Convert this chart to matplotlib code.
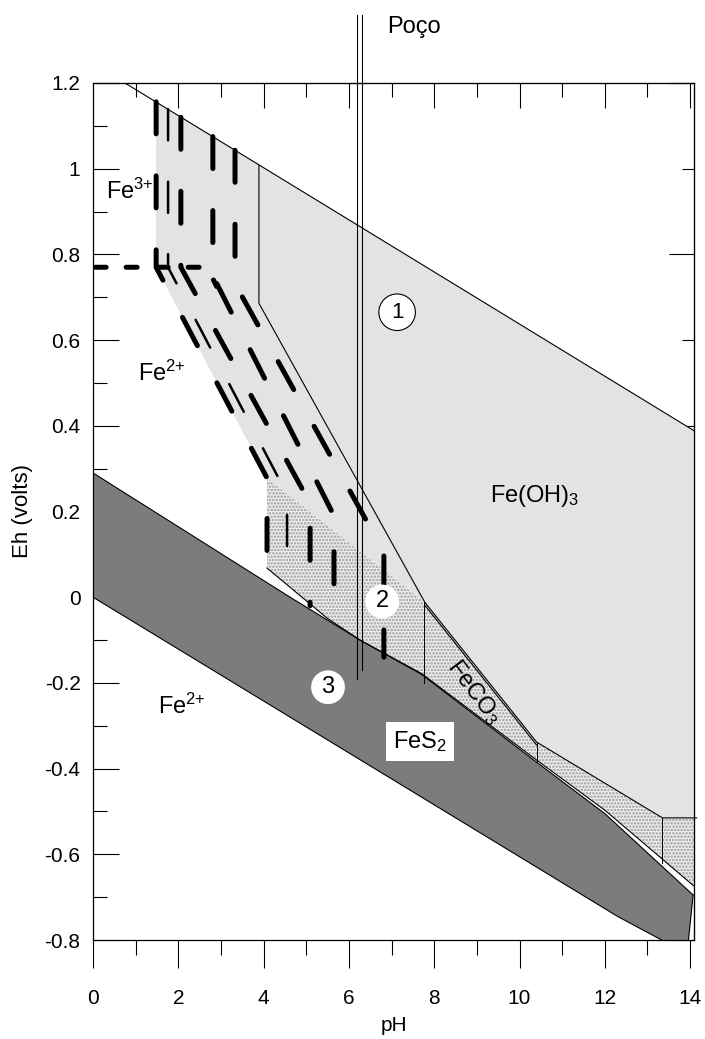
import numpy as np
import matplotlib
matplotlib.use('Agg')
import matplotlib.pyplot as plt

plt.rcParams['font.family'] = ['Liberation Sans', 'DejaVu Sans']
plt.rcParams['mathtext.fontset'] = 'custom'
plt.rcParams['mathtext.rm'] = 'Liberation Sans'
plt.rcParams['mathtext.it'] = 'Liberation Sans:italic'
plt.rcParams['mathtext.bf'] = 'Liberation Sans:bold'
plt.rcParams['hatch.linewidth'] = 1.2

# upper water stability line
top_ph = [0.75, 14.1]
top_eh = [1.2, 0.388]

# Fe(OH)3 field (light shading)
feoh3_ph = [1.48, 14.1, 14.1, 13.35, 10.4, 7.78, 4.08, 1.48]
feoh3_eh = [1.156, 0.388, -0.515, -0.515, -0.338, -0.012, 0.278, 0.77]

# FeCO3 field (dotted)
feco3_ph = [4.08, 7.78, 10.4, 13.35, 14.1, 14.1, 12.0, 10.4, 7.7, 6.26, 5.49, 4.08]
feco3_eh = [0.278, -0.012, -0.338, -0.515, -0.515, -0.675, -0.497, -0.380, -0.178, -0.10, -0.049, 0.068]

# FeS2 field (dark)
fes2_ph = [0, 4.62, 6.26, 7.7, 10.4, 12.0, 14.07, 13.95, 13.48, 12.3, 0]
fes2_eh = [0.29, 0.0, -0.10, -0.18, -0.385, -0.505, -0.695, -0.81, -0.808, -0.745, 0.0]

# Fe(OH)3 boundary line
bnd_ph = [3.89, 3.89, 7.78, 10.4, 13.35, 14.15]
bnd_eh = [1.009, 0.686, -0.012, -0.338, -0.515, -0.515]
bnd2_ph = [7.78, 10.4]
bnd2_eh = [-0.019, -0.345]

# vertical dividers inside FeCO3
div_ph = [7.75, 10.4, 13.35]
div_top = [-0.012, -0.338, -0.515]
div_bot = [-0.20, -0.382, -0.62]

# well (Poço) trace
poco_ph = [6.19, 6.31]
poco_top = [1.358, 1.358]
poco_bot = [-0.19, -0.17]

# dashed boundaries for other iron activities
l1_ph = [1.48, 1.48, 4.08, 4.08]
l1_eh = [1.156, 0.77, 0.278, 0.07]
l2_ph = [1.76, 1.76, 4.55, 4.55]
l2_eh = [1.139, 0.77, 0.24, 0.03]
l3_ph = [2.06, 2.06, 5.09, 5.09]
l3_eh = [1.120, 0.77, 0.219, -0.02]
l4_ph = [2.81, 2.81, 5.65, 5.65]
l4_eh = [1.075, 0.75, 0.19, -0.06]
l5_ph = [3.33, 3.33, 3.45, 6.38, 6.82, 6.82]
l5_eh = [1.043, 0.745, 0.71, 0.184, 0.11, -0.14]
h_ph = [0.05, 2.5, 2.75, 2.9]
h_eh = [0.77, 0.77, 0.755, 0.725]

fig = plt.figure(figsize=(7.05, 10.39), dpi=100)
ax = fig.add_axes([93/705, 1-940/1039, (694.4-93)/705, (940-83)/1039])
ax.set_xlim(0, 14.1)
ax.set_ylim(-0.8, 1.2)

ax.fill(feoh3_ph, feoh3_eh, facecolor='#e3e3e3', edgecolor='none', zorder=1)
ax.fill(feco3_ph, feco3_eh, facecolor='#eeeeee', edgecolor='none', zorder=1)
ax.fill(feco3_ph, feco3_eh, facecolor='none', edgecolor='#9a9a9a', hatch='.....', linewidth=0, zorder=1.1)
ax.fill(fes2_ph, fes2_eh, facecolor='#7c7c7c', edgecolor='none', zorder=2)

# outlines
ax.plot(top_ph, top_eh, color='k', lw=0.8, zorder=3)
ax.plot(bnd_ph, bnd_eh, color='k', lw=0.8, zorder=3, clip_on=False)
ax.plot(bnd2_ph, bnd2_eh, color='k', lw=0.8, zorder=3)
ax.plot(fes2_ph[:7], fes2_eh[:7], color='k', lw=0.8, zorder=3)
ax.plot(fes2_ph[6:], fes2_eh[6:], color='k', lw=0.8, zorder=3)
ax.plot(feco3_ph[5:], feco3_eh[5:], color='k', lw=0.8, zorder=3)
for x, y0, y1 in zip(div_ph, div_top, div_bot):
    ax.plot([x, x], [y0, y1], color='k', lw=0.7, zorder=3)

for x, y0, y1 in zip(poco_ph, poco_top, poco_bot):
    ax.plot([x, x], [y0, y1], color='k', lw=0.8, zorder=6, clip_on=False)
ax.text(6.9, 1.317, 'Poço', fontsize=17, ha='left', va='baseline')

thick = dict(color='k', lw=3.6, solid_capstyle='round', dash_capstyle='round', zorder=5)
for xs, ys in [(l1_ph, l1_eh), (l3_ph, l3_eh), (l4_ph, l4_eh), (l5_ph, l5_eh)]:
    ax.plot(xs, ys, linestyle=(0, (6.4, 8.4)), **thick)
ax.plot(l2_ph, l2_eh, color='k', lw=1.8, linestyle=(0, (12.5, 16.5)),
        dash_capstyle='round', zorder=5)
ax.plot(h_ph, h_eh, linestyle=(0, (2.2, 4.0)), **thick)

# field labels
ax.text(0.3, 0.947, r'$\mathregular{Fe^{3{+}}}$', fontsize=17, va='center', zorder=7)
ax.text(1.06, 0.523, r'$\mathregular{Fe^{2{+}}}$', fontsize=17, va='center', zorder=7)
ax.text(1.52, -0.255, r'$\mathregular{Fe^{2{+}}}$', fontsize=17, va='center', zorder=7)
ax.text(10.36, 0.236, r'$\mathregular{Fe(OH)_3}$', fontsize=17, ha='center', va='center', zorder=7)
ax.text(7.67, -0.336, r'$\mathregular{FeS_2}$', fontsize=17, ha='center', va='center', zorder=7,
        bbox=dict(boxstyle='square,pad=0.3', fc='white', ec='none'))
ax.text(8.93, -0.222, r'$\mathregular{FeCO_3}$', fontsize=17, ha='center', va='center',
        rotation=-53, rotation_mode='anchor', zorder=7)

ax.text(7.13, 0.665, '1', fontsize=16, ha='center', va='center', zorder=7,
        bbox=dict(boxstyle='circle,pad=0.35', fc='white', ec='k', lw=0.8))
ax.text(6.78, -0.01, '2', fontsize=17, ha='center', va='center', zorder=7,
        bbox=dict(boxstyle='circle,pad=0.25', fc='white', ec='none'))
ax.text(5.51, -0.21, '3', fontsize=17, ha='center', va='center', zorder=7,
        bbox=dict(boxstyle='circle,pad=0.25', fc='white', ec='none'))

# axes and ticks
ax.set_xticks(np.arange(0, 15, 2))
ax.set_xticks(np.arange(1, 14, 2), minor=True)
ax.set_yticks(np.round(np.arange(-0.8, 1.21, 0.2), 1))
ax.set_yticks(np.round(np.arange(-0.7, 1.2, 0.2), 1), minor=True)
ax.set_yticklabels(['-0.8', '-0.6', '-0.4', '-0.2', '0', '0.2', '0.4', '0.6', '0.8', '1', '1.2'])
ax.tick_params(axis='x', which='major', direction='out', length=20, width=0.8, labelsize=15, pad=15)
ax.tick_params(axis='x', which='minor', direction='out', length=11, width=0.8)
ax.tick_params(axis='y', which='major', direction='in', length=18.7, width=0.8, labelsize=15, pad=9)
ax.tick_params(axis='y', which='minor', direction='in', length=10, width=0.8)
ax.set_xlabel('pH', fontsize=15, labelpad=6)
ax.set_ylabel('Eh (volts)', fontsize=16, labelpad=8)
for s in ax.spines.values():
    s.set_linewidth(0.9)

top = ax.secondary_xaxis('top')
top.set_xticks(np.arange(2, 15, 2))
top.set_xticks(np.arange(1, 14, 2), minor=True)
top.tick_params(which='major', direction='in', length=18, width=0.8, labeltop=False)
top.tick_params(which='minor', direction='in', length=10, width=0.8)

right = ax.secondary_yaxis('right')
right.set_yticks([-0.8, -0.4, 0, 0.4, 0.8, 1.2])
right.set_yticks([-0.6, -0.2, 0.2, 0.6, 1.0], minor=True)
right.tick_params(which='major', direction='in', length=18, width=0.8, labelright=False)
right.tick_params(which='minor', direction='in', length=8.6, width=0.8)

fig.savefig('out.png', dpi=100)
